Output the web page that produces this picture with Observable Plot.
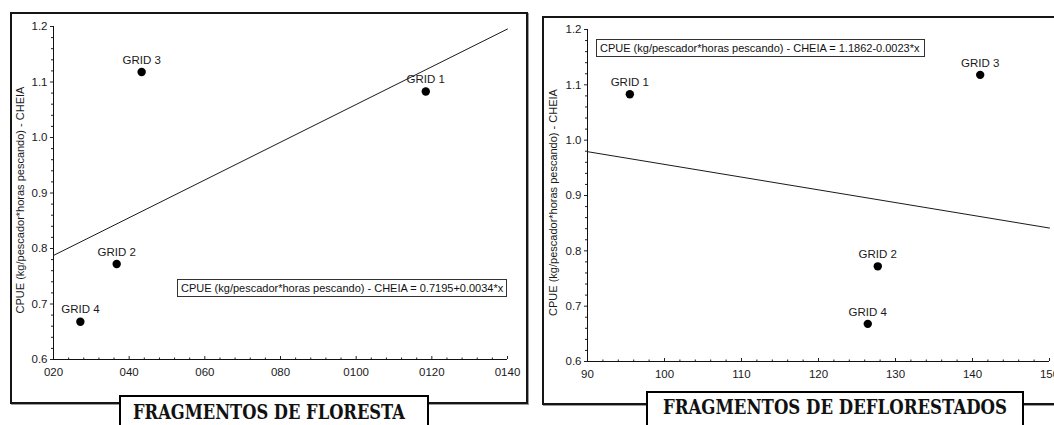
<!DOCTYPE html>
<html>
<head>
<meta charset="utf-8">
<script src="https://cdn.jsdelivr.net/npm/d3@7"></script>
<script src="https://cdn.jsdelivr.net/npm/@observablehq/plot@0.6"></script>
<style>
  html, body { margin: 0; padding: 0; background: #fff; overflow: hidden; width: 1054px; height: 425px; }
  #root { position: relative; width: 1054px; height: 425px; overflow: hidden; font-family: "Liberation Sans", Arial, sans-serif; }
  .frame { position: absolute; box-sizing: border-box; border: 2px solid #151515; box-shadow: 1px 1px 0 #9a9a9a; }
  .plotwrap { position: absolute; top: 0; }
  .plotwrap svg { max-width: none !important; background: transparent !important; overflow: visible; }
  .eq { position: absolute; box-sizing: border-box; border: 1px solid #333; background: #fff; font-size: 11px; line-height: 16px; padding: 0 0 0 3px; white-space: nowrap; color: #111; }
  .title { position: absolute; box-sizing: border-box; border: 2px solid #000; border-bottom: none; background: #fff; }
</style>
</head>
<body>
<div id="root"></div>
<script>
// ---------- data ----------
const grids = ["GRID 1", "GRID 2", "GRID 3", "GRID 4"];
const cpue = [1.083, 0.772, 1.118, 0.668];
const florestaX = [118.4, 36.7, 43.3, 27.1];
const desflorestaX = [95.5, 127.7, 141.0, 126.4];

const florestaFit = { intercept: 0.7195, slope: 0.0034 };
const desflorestaFit = { intercept: 1.1862, slope: -0.0023 };

const yTicks = [0.6, 0.7, 0.8, 0.9, 1.0, 1.1, 1.2];
const florestaTicks = [20, 40, 60, 80, 100, 120, 140];
const florestaTickLabels = ["020", "040", "060", "080", "0100", "0120", "0140"];
const desflorestaTicks = [90, 100, 110, 120, 130, 140, 150];
const desflorestaTickLabels = ["90", "100", "110", "120", "130", "140", "150"];

const yLabel = "CPUE (kg/pescador*horas pescando) - CHEIA";
const florestaEq = "CPUE (kg/pescador*horas pescando) - CHEIA = 0.7195+0.0034*x";
const desflorestaEq = "CPUE (kg/pescador*horas pescando) - CHEIA = 1.1862-0.0023*x";
const florestaTitle = "FRAGMENTOS DE FLORESTA";
const desflorestaTitle = "FRAGMENTOS DE DEFLORESTADOS";

// ---------- helpers ----------
const root = document.getElementById("root");
function div(cls, style, text) {
  const d = document.createElement("div");
  d.className = cls;
  Object.assign(d.style, style);
  if (text) d.textContent = text;
  root.appendChild(d);
  return d;
}

function panel({xs, fit, ticks, tickLabels, minorStep, width, marginLeft, marginRight, marginTop, marginBottom, labelDx, labelDy}) {
  const pts = grids.map((g, i) => ({ grid: g, x: xs[i], y: cpue[i] }));
  const x0 = ticks[0], x1 = ticks[ticks.length - 1];
  const fitLine = [x0, x1].map(x => ({ x, y: fit.intercept + fit.slope * x }));
  const minorX = d3.range(x0, x1 + 1e-9, minorStep).filter(v => !ticks.includes(v));
  const minorY = d3.range(0.6, 1.2 + 1e-9, 0.02).map(v => +v.toFixed(2)).filter(v => !yTicks.some(t => Math.abs(t - v) < 1e-9));
  const labelOf = d => tickLabels[ticks.findIndex(t => Math.abs(t - d) < 1e-9)];
  return Plot.plot({
    width, height: 425,
    marginLeft, marginRight, marginTop, marginBottom,
    style: { background: "transparent", fontFamily: "'Liberation Sans', Arial, sans-serif", fontSize: "11px", color: "#1a1a1a", overflow: "visible" },
    x: { domain: [x0, x1], axis: null },
    y: { domain: [0.6, 1.2], axis: null },
    marks: [
      Plot.axisY(minorY, { tickSize: 2, tickFormat: () => "", label: null, stroke: "#222" }),
      Plot.axisY(yTicks, { tickSize: 3, tickPadding: 3, tickFormat: d3.format(".1f"), label: null, fontSize: 11.5, stroke: "#222" }),
      Plot.axisX(minorX, { tickSize: -1.5, tickFormat: () => "", label: null, stroke: "#222" }),
      Plot.axisX(ticks, { tickSize: -3, tickPadding: 11, tickFormat: labelOf, label: null, fontSize: 11.5, stroke: "#222" }),
      Plot.ruleX([x0], { stroke: "#111" }),
      Plot.ruleY([0.6], { stroke: "#111" }),
      Plot.text([yLabel], { text: d => d, frameAnchor: "left", textAnchor: "middle", rotate: -90, dx: labelDx, dy: labelDy, fontSize: 11, fill: "#1a1a1a" }),
      Plot.line(fitLine, { x: "x", y: "y", stroke: "#1a1a1a", strokeWidth: 1 }),
      Plot.dot(pts, { x: "x", y: "y", r: 4.2, fill: "#000", stroke: "none" }),
      Plot.text(pts, { x: "x", y: "y", text: "grid", dy: -12, fontSize: 11.5, fill: "#1a1a1a" })
    ]
  });
}

// ---------- frames ----------
div("frame", { left: "10px", top: "12px", width: "518px", height: "392px" });
div("frame", { left: "542px", top: "16px", width: "600px", height: "389px" });

// ---------- plots ----------
const wrapL = div("plotwrap", { left: "0px", width: "530px" });
wrapL.appendChild(panel({
  xs: florestaX, fit: florestaFit, ticks: florestaTicks, tickLabels: florestaTickLabels, minorStep: 4,
  width: 530, marginLeft: 53, marginRight: 23, marginTop: 26, marginBottom: 66, labelDx: -33, labelDy: 7
}));
const wrapR = div("plotwrap", { left: "530px", width: "560px" });
wrapR.appendChild(panel({
  xs: desflorestaX, fit: desflorestaFit, ticks: desflorestaTicks, tickLabels: desflorestaTickLabels, minorStep: 2,
  width: 560, marginLeft: 57, marginRight: 41, marginTop: 29, marginBottom: 64, labelDx: -34, labelDy: 7
}));

// ---------- equation boxes ----------
div("eq", { left: "177px", top: "279px", width: "330px", height: "18px" }, florestaEq);
div("eq", { left: "596px", top: "39px", width: "329px", height: "18px" }, desflorestaEq);

// ---------- titles ----------
function title(text, style, tx, baseline, len) {
  const h = 425 - parseFloat(style.top);
  style.height = h + "px";
  const t = div("title", style);
  const svg = d3.select(t).append("svg")
    .attr("width", parseFloat(style.width) - 4).attr("height", h - 2)
    .style("position", "absolute").style("left", "0px").style("top", "0px").style("overflow", "visible");
  svg.append("text")
    .attr("x", tx).attr("y", baseline)
    .attr("textLength", len).attr("lengthAdjust", "spacingAndGlyphs")
    .attr("font-family", "'DejaVu Serif', 'Liberation Serif', serif")
    .attr("font-weight", "bold").attr("font-size", 20).attr("fill", "#111")
    .text(text);
}
title(florestaTitle, { left: "119px", top: "395px", width: "310px" }, 12, 22, 272);
title(desflorestaTitle, { left: "646px", top: "391px", width: "378px" }, 15, 21, 344);
</script>
</body>
</html>
